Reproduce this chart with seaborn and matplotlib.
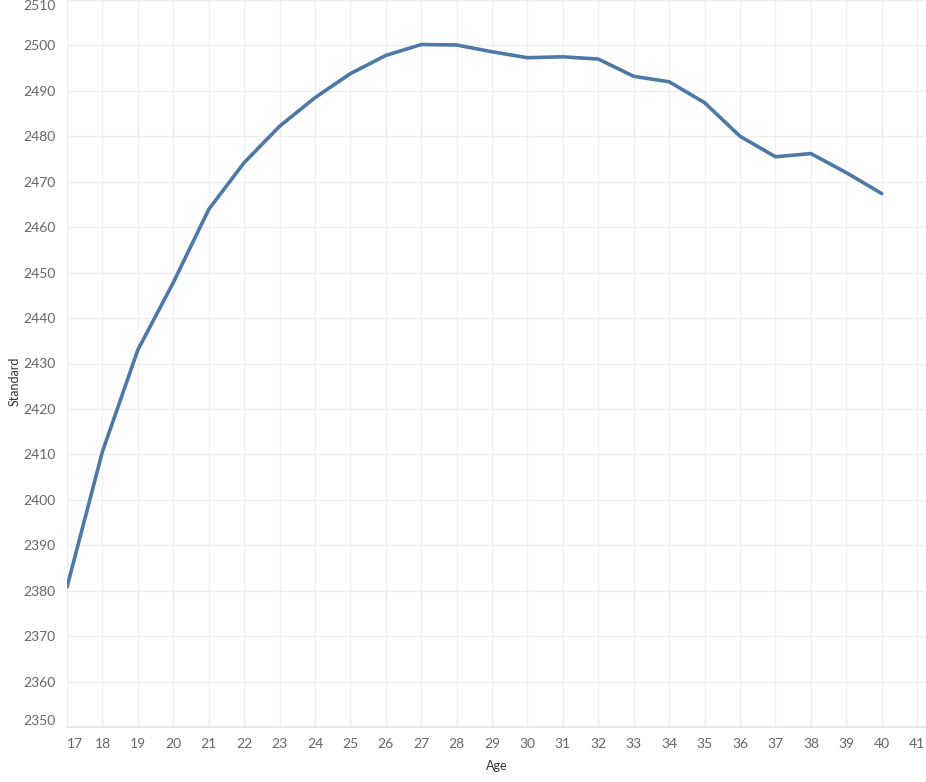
import pandas as pd
import seaborn as sns
import matplotlib.pyplot as plt

# values
ages = list(range(17, 41))
standard = [2380.8, 2410.6, 2433.0, 2447.8, 2463.9, 2474.2, 2482.2, 2488.5,
            2493.8, 2497.8, 2500.2, 2500.1, 2498.6, 2497.3, 2497.5, 2497.0,
            2493.2, 2492.0, 2487.4, 2480.0, 2475.5, 2476.2, 2472.0, 2467.4]
x_ticks = list(range(17, 42))
y_ticks = list(range(2350, 2511, 10))

df = pd.DataFrame({"Age": ages, "Standard": standard})

sns.set_theme(style="white")
plt.rcParams['font.family'] = ['Lato', 'DejaVu Sans']

fig = plt.figure(figsize=(9.26, 7.82), dpi=100)
ax = fig.add_axes([67 / 926, 1 - 727 / 782, 1 - 67 / 926, 727 / 782])

sns.lineplot(data=df, x="Age", y="Standard", color="#4e79a7", linewidth=2.6, ax=ax)

ax.set_xlim(17, 41.25)
ax.set_ylim(2350, 2510)
ax.set_xticks(x_ticks)
ax.set_yticks(y_ticks)
ax.grid(True, color="#efefef", linewidth=1)
ax.set_axisbelow(True)

for side in ["top", "right", "left"]:
    ax.spines[side].set_visible(False)
ax.spines["bottom"].set_color("#e6e6e6")

ax.tick_params(axis="both", length=4, color="#e6e6e6", labelsize=10,
               labelcolor="#666666", pad=4)

# keep the end labels inside the view, like the original
ylabels = ax.get_yticklabels()
ylabels[-1].set_verticalalignment("top")
ylabels[0].set_verticalalignment("bottom")
ax.get_xticklabels()[0].set_horizontalalignment("left")

ax.set_xlabel("Age", fontsize=9, color="#333333", labelpad=7)
ax.set_ylabel("Standard", fontsize=9, color="#333333")
ax.yaxis.set_label_coords(-0.054, 0.476)

fig.savefig("out.png", dpi=100)
